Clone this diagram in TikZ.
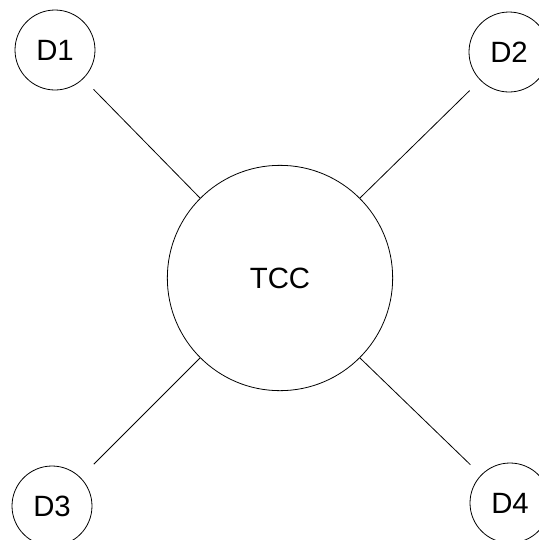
\documentclass[tikz,border=0pt]{standalone}
\usepackage{fontspec}
\setmainfont{Liberation Sans}
\usepackage{tikz}
\usetikzlibrary{positioning}
\tikzset{
  hub-node/.style={draw=black, fill=white, circle, line width=0.6pt,
    minimum size=169pt, inner sep=0pt, font=\fontsize{22}{26}\selectfont},
  dev-node/.style={draw=black, fill=white, circle, line width=0.6pt,
    minimum size=60pt, inner sep=0pt, font=\fontsize{22}{26}\selectfont},
  dev-link/.style={draw=black, line width=0.6pt, shorten >=11pt}
}

\begin{document}
\begin{tikzpicture}[x=0.75pt, y=-0.75pt]
  \useasboundingbox (0,0) rectangle (539,540);
  \clip (0,0) rectangle (539,540);

  % Central controller
  \node[hub-node] (tcc) at (280,278) {TCC};

  % Devices in the corners
  \node[dev-node] (d1) at (55,50)   {D1};
  \node[dev-node] (d2) at (509,52)  {D2};
  \node[dev-node] (d3) at (52,506)  {D3};
  \node[dev-node] (d4) at (510,503) {D4};

  % Links, stopping short of the devices
  \draw[dev-link] (tcc.135) -- (d1);
  \draw[dev-link] (tcc.45)  -- (d2);
  \draw[dev-link, shorten >=14pt] (tcc.225) -- (d3);
  \draw[dev-link] (tcc.-45) -- (d4);
\end{tikzpicture}
\end{document}
